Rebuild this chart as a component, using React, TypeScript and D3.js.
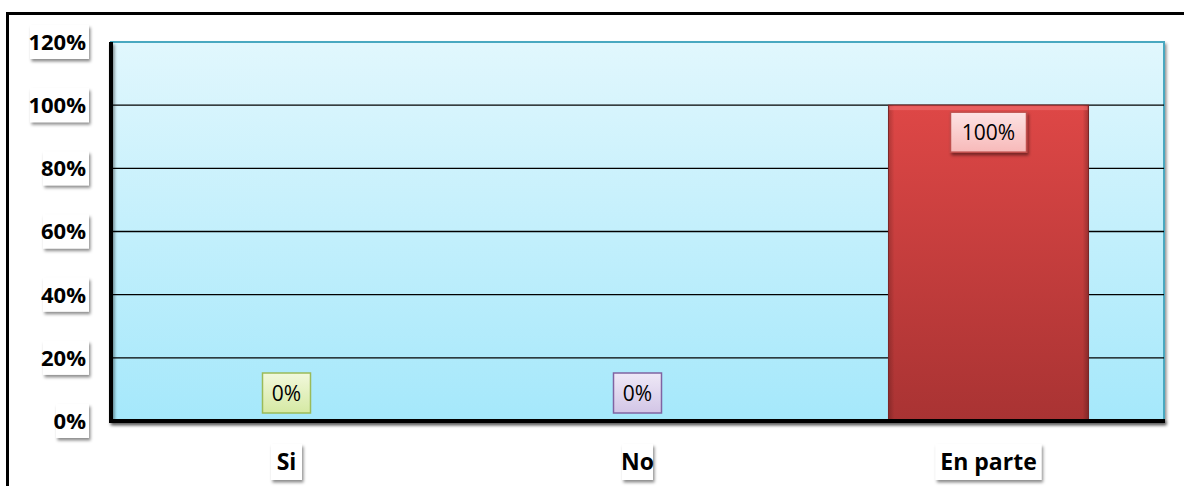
import React from "react";
import * as d3 from "d3";

const categories = ["Si", "No", "En parte"];
const values = [0, 0, 1];
const yTicks = [0, 0.2, 0.4, 0.6, 0.8, 1.0, 1.2];
const labelStyles = [
  { fillTop: "#f2f8dc", fillBottom: "#d5e9a3", stroke: "#9bbb59" },
  { fillTop: "#efe9f7", fillBottom: "#d2c5e6", stroke: "#8064a2" },
  { fillTop: "#fde3e3", fillBottom: "#f7b9b9", stroke: "#c0504d" },
];

const W = 1184;
const H = 486;
const M = { left: 111, right: 20, top: 42, bottom: 65 };

export default function App() {
  const x = d3
    .scaleBand<string>()
    .domain(categories)
    .range([M.left, W - M.right])
    .paddingInner(0.43)
    .paddingOuter(0.215);
  const band = d3.scaleBand<string>().domain(categories).range([M.left, W - M.right]);
  const y = d3.scaleLinear().domain([0, 1.2]).range([H - M.bottom, M.top]);
  const fmt = d3.format(".0%");
  const font = "'Open Sans', Lato, sans-serif";

  return (
    <svg
      width={W}
      height={H}
      style={{ position: "absolute", left: 0, top: 0, background: "#fff" }}
    >
      <defs>
        <linearGradient id="plotBg" x1="0" y1="0" x2="0" y2="1">
          <stop offset="0" stopColor="#e1f7fd" />
          <stop offset="1" stopColor="#a5e8fb" />
        </linearGradient>
        <linearGradient id="barGrad" x1="0" y1="0" x2="0" y2="1">
          <stop offset="0" stopColor="#de4746" />
          <stop offset="1" stopColor="#a93333" />
        </linearGradient>
        <linearGradient id="barSide" x1="0" y1="0" x2="1" y2="0">
          <stop offset="0" stopColor="#000" stopOpacity="0.2" />
          <stop offset="0.03" stopColor="#000" stopOpacity="0" />
          <stop offset="0.97" stopColor="#000" stopOpacity="0" />
          <stop offset="1" stopColor="#000" stopOpacity="0.25" />
        </linearGradient>
        {labelStyles.map((s, i) => (
          <linearGradient key={i} id={`lbl${i}`} x1="0" y1="0" x2="0" y2="1">
            <stop offset="0" stopColor={s.fillTop} />
            <stop offset="1" stopColor={s.fillBottom} />
          </linearGradient>
        ))}
        <filter id="shadow" x="-20%" y="-20%" width="150%" height="160%">
          <feDropShadow dx="1.5" dy="2.5" stdDeviation="1.8" floodColor="#000" floodOpacity="0.45" />
        </filter>
      </defs>

      {/* outer chart border */}
      <rect x={7.5} y={13.5} width={W + 20} height={H + 20} fill="none" stroke="#000" strokeWidth={3} />

      {/* plot area */}
      <rect
        x={M.left}
        y={M.top}
        width={W - M.right - M.left}
        height={H - M.bottom - M.top}
        fill="url(#plotBg)"
        stroke="#4aa8c0"
        strokeWidth={2}
        filter="url(#shadow)"
      />

      {/* gridlines */}
      {yTicks.slice(1, -1).map((t) => (
        <line key={t} x1={M.left} x2={W - M.right} y1={y(t)} y2={y(t)} stroke="#000" strokeWidth={1.3} />
      ))}

      {/* bars */}
      {categories.map((c, i) =>
        values[i] > 0 ? (
          <g key={c}>
            <rect x={x(c)} y={y(values[i])} width={x.bandwidth()} height={y(0) - y(values[i])} fill="url(#barGrad)" stroke="#8a2a2a" strokeWidth={1} />
            <rect x={x(c)} y={y(values[i])} width={x.bandwidth()} height={y(0) - y(values[i])} fill="url(#barSide)" />
            <rect x={x(c)! + 1} y={y(values[i]) + 1} width={x.bandwidth() - 2} height={4} fill="#f07070" opacity={0.6} />
          </g>
        ) : null
      )}

      {/* axes */}
      <g filter="url(#shadow)">
        <line x1={M.left} x2={M.left} y1={M.top} y2={y(0) + 2} stroke="#000" strokeWidth={4} />
        <line x1={M.left - 2} x2={W - M.right + 1} y1={y(0)} y2={y(0)} stroke="#000" strokeWidth={4} />
      </g>

      {/* y tick labels */}
      {yTicks.map((t) => {
        const label = fmt(t);
        const w = label.length * 13 + 6;
        return (
          <g key={t}>
            <rect x={88 - w} y={y(t) - 17} width={w + 1} height={34} fill="#fff" filter="url(#shadow)" />
            <text x={86} y={y(t)} dy="0.36em" textAnchor="end" fontFamily={font} fontWeight="bold" fontSize={22} fill="#000">
              {label}
            </text>
          </g>
        );
      })}

      {/* x labels */}
      {categories.map((c) => {
        const cx = band(c)! + band.bandwidth() / 2;
        const w = c.length * 12.5 + 6;
        return (
          <g key={c}>
            <rect x={cx - w / 2} y={444} width={w} height={36} fill="#fff" filter="url(#shadow)" />
            <text x={cx} y={462} dy="0.36em" textAnchor="middle" fontFamily={font} fontWeight="bold" fontSize={23} fill="#000">
              {c}
            </text>
          </g>
        );
      })}

      {/* data labels */}
      {categories.map((c, i) => {
        const cx = band(c)! + band.bandwidth() / 2;
        const v = values[i];
        const cy = v > 0 ? y(v) + 27 : y(v) - 28;
        const label = fmt(v);
        const w = label.length * 14 + 20;
        return (
          <g key={c}>
            <rect
              x={cx - w / 2}
              y={cy - 20}
              width={w}
              height={40}
              fill={`url(#lbl${i})`}
              stroke={labelStyles[i].stroke}
              strokeWidth={1.5}
              filter={v > 0 ? "url(#shadow)" : undefined}
            />
            <text x={cx} y={cy} dy="0.36em" textAnchor="middle" fontFamily={font} fontSize={21} fill="#000">
              {label}
            </text>
          </g>
        );
      })}
    </svg>
  );
}
